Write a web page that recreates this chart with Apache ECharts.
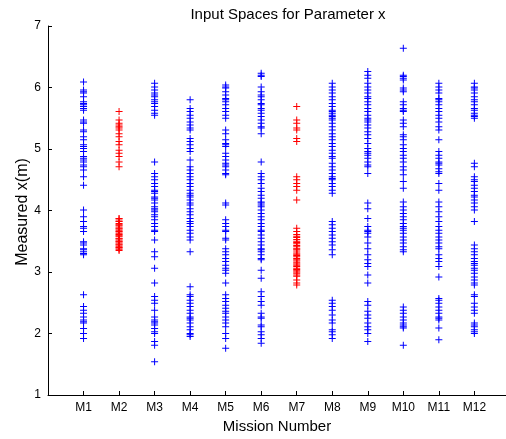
<!DOCTYPE html>
<html>
<head>
<meta charset="utf-8">
<script src="https://cdn.jsdelivr.net/npm/echarts@6/dist/echarts.min.js"></script>
<style>
html,body{margin:0;padding:0;background:#fff;}
#chart{width:506px;height:439px;}
</style>
</head>
<body>
<div id="chart"></div>
<script>
const categories = ['M1','M2','M3','M4','M5','M6','M7','M8','M9','M10','M11','M12'];
const redMissions = ['M2','M7'];
const yTicks = [1,2,3,4,5,6,7];

const m1 = [6.09,5.96,5.93,5.91,5.85,5.77,5.74,5.72,5.69,5.66,5.63,5.47,5.44,5.42,5.31,5.28,5.20,5.15,5.07,5.04,5.01,4.96,4.88,4.85,4.82,4.79,4.74,4.71,4.66,4.55,4.41,4.01,3.90,3.82,3.74,3.71,3.66,3.49,3.47,3.44,3.38,3.36,3.33,3.30,3.28,2.63,2.44,2.38,2.33,2.27,2.22,2.19,2.17,2.08,2.00,1.92];
const m2 = [5.61,5.47,5.42,5.39,5.36,5.34,5.31,5.25,5.20,5.12,5.07,4.98,4.93,4.88,4.79,4.71,3.87,3.86,3.83,3.82,3.79,3.77,3.76,3.73,3.71,3.70,3.68,3.66,3.65,3.62,3.61,3.59,3.58,3.55,3.54,3.52,3.50,3.49,3.47,3.45,3.44,3.42,3.40,3.39,3.37,3.35];
const m3 = [6.07,6.01,5.96,5.91,5.88,5.85,5.80,5.77,5.74,5.69,5.63,5.58,5.55,4.79,4.60,4.55,4.50,4.44,4.39,4.33,4.31,4.28,4.22,4.20,4.17,4.12,4.06,4.03,4.01,3.98,3.93,3.90,3.85,3.79,3.74,3.68,3.66,3.52,3.33,3.25,3.06,2.82,2.60,2.54,2.49,2.38,2.27,2.22,2.19,2.17,2.14,2.08,2.03,2.00,1.87,1.81,1.54];
const m4 = [5.80,5.66,5.61,5.55,5.50,5.44,5.39,5.34,5.31,5.17,5.12,5.07,5.01,4.96,4.82,4.71,4.66,4.60,4.55,4.50,4.44,4.39,4.33,4.28,4.25,4.22,4.17,4.12,4.09,4.03,3.98,3.93,3.87,3.82,3.79,3.74,3.68,3.63,3.57,3.52,3.33,2.76,2.63,2.60,2.54,2.49,2.44,2.38,2.33,2.27,2.25,2.22,2.17,2.11,2.06,2.00,1.98,1.95];
const m5 = [6.04,6.01,5.99,5.93,5.88,5.82,5.80,5.77,5.72,5.66,5.61,5.55,5.50,5.31,5.25,5.15,5.09,5.07,5.04,4.93,4.88,4.82,4.77,4.74,4.71,4.66,4.60,4.58,4.12,4.09,3.85,3.79,3.74,3.68,3.66,3.55,3.52,3.38,3.33,3.28,3.22,3.17,3.11,3.06,3.03,2.98,2.82,2.63,2.57,2.52,2.46,2.41,2.36,2.33,2.27,2.22,2.17,2.11,2.00,1.92,1.76];
const m6 = [6.23,6.20,6.18,6.01,5.93,5.88,5.85,5.80,5.74,5.72,5.66,5.63,5.58,5.53,5.47,5.42,5.36,5.34,5.25,4.79,4.60,4.55,4.50,4.44,4.36,4.31,4.25,4.20,4.14,4.12,4.09,4.06,4.01,3.95,3.90,3.85,3.79,3.74,3.68,3.66,3.60,3.55,3.49,3.44,3.38,3.36,3.33,3.28,3.22,3.20,3.03,2.90,2.68,2.60,2.52,2.46,2.33,2.27,2.25,2.14,2.11,2.03,1.98,1.92,1.84];
const m7 = [5.69,5.47,5.42,5.34,5.31,5.17,5.12,4.55,4.50,4.44,4.39,4.33,4.17,3.71,3.66,3.61,3.58,3.56,3.53,3.50,3.48,3.46,3.43,3.41,3.38,3.37,3.34,3.31,3.29,3.27,3.25,3.22,3.20,3.18,3.15,3.13,3.11,3.09,3.06,3.04,3.02,3.00,2.98,2.95,2.93,2.87,2.82,2.79];
const m8 = [6.07,6.01,5.96,5.91,5.85,5.80,5.74,5.69,5.63,5.61,5.58,5.55,5.53,5.50,5.47,5.42,5.36,5.31,5.25,5.20,5.15,5.09,5.04,4.98,4.93,4.88,4.85,4.77,4.71,4.66,4.60,4.55,4.52,4.50,4.44,4.39,4.33,4.28,3.82,3.77,3.71,3.66,3.60,3.55,3.49,3.44,3.36,3.28,2.54,2.49,2.44,2.38,2.30,2.22,2.17,2.06,2.03,1.98,1.92];
const m9 = [6.26,6.20,6.15,6.07,6.01,5.96,5.91,5.85,5.82,5.77,5.72,5.66,5.61,5.55,5.50,5.47,5.44,5.39,5.34,5.28,5.23,5.17,5.09,5.01,4.96,4.93,4.90,4.85,4.79,4.74,4.71,4.60,4.12,4.03,3.87,3.74,3.68,3.66,3.63,3.57,3.47,3.38,3.28,3.20,3.14,3.09,2.95,2.82,2.52,2.46,2.36,2.30,2.25,2.17,2.11,2.06,2.00,1.87];
const m10 = [6.64,6.20,6.18,6.15,6.12,5.99,5.96,5.93,5.77,5.72,5.66,5.63,5.61,5.47,5.42,5.36,5.23,5.20,5.15,5.07,5.01,4.96,4.90,4.85,4.79,4.71,4.66,4.58,4.47,4.36,4.14,4.06,4.01,3.95,3.90,3.85,3.79,3.74,3.71,3.68,3.63,3.57,3.52,3.47,3.41,3.36,3.33,2.43,2.38,2.33,2.27,2.22,2.17,2.14,2.11,2.09,1.81];
const m11 = [6.07,6.01,5.96,5.91,5.82,5.80,5.77,5.72,5.66,5.61,5.55,5.50,5.44,5.36,5.31,5.15,4.96,4.90,4.85,4.79,4.77,4.74,4.68,4.63,4.60,4.44,4.33,4.14,4.06,3.98,3.90,3.82,3.74,3.68,3.63,3.57,3.52,3.47,3.41,3.38,3.28,3.22,3.17,3.09,2.92,2.57,2.54,2.49,2.43,2.38,2.33,2.27,2.25,2.22,2.09,1.90];
const m12 = [6.07,6.01,5.99,5.96,5.91,5.85,5.80,5.77,5.72,5.66,5.63,5.58,5.55,5.53,5.50,4.77,4.71,4.55,4.50,4.47,4.41,4.36,4.31,4.25,4.22,4.17,4.12,4.06,4.01,3.82,3.44,3.38,3.33,3.28,3.22,3.17,3.14,3.11,3.06,3.03,2.98,2.92,2.87,2.82,2.79,2.63,2.60,2.49,2.43,2.38,2.33,2.17,2.14,2.11,2.06,2.03,2.00];

const missionValues = [m1,m2,m3,m4,m5,m6,m7,m8,m9,m10,m11,m12];

const blueData = [], redData = [];
categories.forEach((c, i) => {
  const target = redMissions.includes(c) ? redData : blueData;
  missionValues[i].forEach(v => target.push([i + 1, v]));
});

const plus = 'path://M3,0h1v3h3v1h-3v3h-1v-3h-3v-1h3z';
const FONT = '"Liberation Sans", Arial, sans-serif';

const chart = echarts.init(document.getElementById('chart'), null, {renderer: 'canvas'});
chart.setOption({
  animation: false,
  backgroundColor: '#ffffff',
  textStyle: {fontFamily: FONT},
  graphic: [{
    type: 'text', x: 288, y: 7,
    style: {text: 'Input Spaces for Parameter x', font: '15px ' + FONT, fill: '#000', align: 'center', textAlign: 'center', verticalAlign: 'top'}
  }, {
    type: 'text', x: 23, y: 212, rotation: Math.PI / 2,
    style: {text: 'Measured x(m)', font: '16px ' + FONT, fill: '#000', align: 'center', verticalAlign: 'middle'}
  }],
  grid: {left: 48, top: 26, bottom: 44, right: -6, containLabel: false},
  xAxis: {
    type: 'value', min: 0, max: 12.89, interval: 1,
    name: 'Mission Number', nameLocation: 'middle', nameGap: 24,
    nameTextStyle: {fontSize: 15, color: '#000', fontFamily: FONT},
    axisLine: {show: true, lineStyle: {color: '#000', width: 1}},
    axisTick: {show: true, inside: true, length: 4, lineStyle: {color: '#000'}},
    axisLabel: {
      color: '#000', fontSize: 12, margin: 7, fontFamily: FONT, showMaxLabel: false,
      formatter: v => (v >= 1 && v <= categories.length && Number.isInteger(v)) ? categories[v - 1] : ''
    },
    splitLine: {show: false}
  },
  yAxis: {
    type: 'value', min: yTicks[0], max: yTicks[yTicks.length - 1], interval: 1,
    axisLine: {show: true, lineStyle: {color: '#000', width: 1}},
    axisTick: {show: true, inside: true, length: 4, lineStyle: {color: '#000'}},
    axisLabel: {color: '#000', fontSize: 12, margin: 7, fontFamily: FONT},
    splitLine: {show: false}
  },
  series: [
    {type: 'scatter', data: blueData, symbol: plus, symbolSize: 7, itemStyle: {color: '#0000ff', opacity: 1}, silent: true},
    {type: 'scatter', data: redData, symbol: plus, symbolSize: 7, itemStyle: {color: '#ff0000', opacity: 1}, silent: true}
  ]
});
</script>
</body>
</html>
